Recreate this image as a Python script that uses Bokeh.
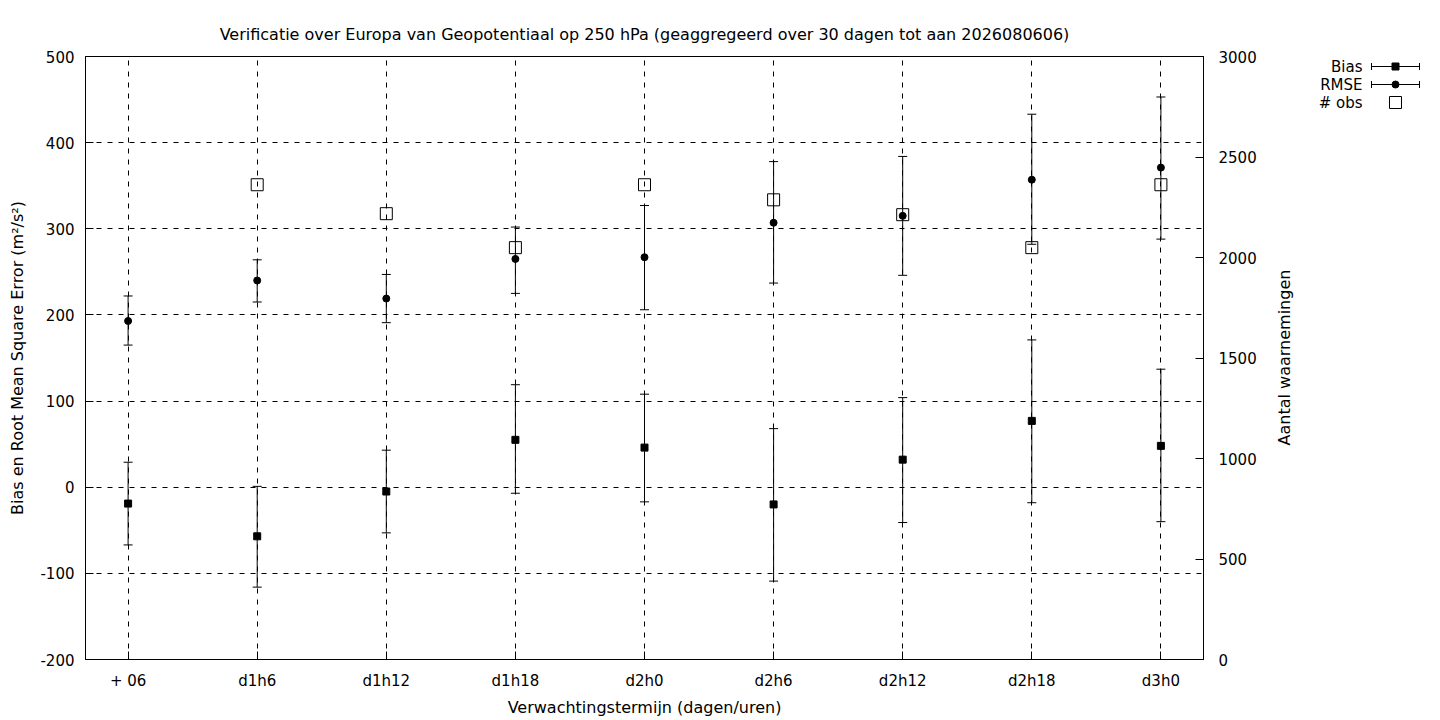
import numpy as np
from bokeh.plotting import figure
from bokeh.layouts import row
from bokeh.models import Range1d, LinearAxis, FixedTicker
from bokeh.embed import file_html
from bokeh.resources import INLINE
from bokeh.core.properties import value

# ---------------- data ----------------
categories = ["+ 06", "d1h6", "d1h12", "d1h18", "d2h0", "d2h6", "d2h12", "d2h18", "d3h0"]
bias = [-19, -57, -5, 55, 46, -20, 32, 77, 48]
bias_hi = [29, 1, 43, 119, 108, 68, 104, 171, 137]
bias_lo = [-67, -116, -53, -7, -17, -109, -41, -18, -40]
rmse = [193, 240, 219, 265, 267, 307, 315, 357, 371]
rmse_hi = [222, 264, 247, 302, 327, 378, 384, 433, 453]
rmse_lo = [165, 215, 191, 225, 206, 237, 246, 282, 288]
nobs = [np.nan, 2362, 2218, 2049, 2362, 2287, 2213, 2049, 2362]
left_ticks = [-200, -100, 0, 100, 200, 300, 400, 500]
right_ticks = [0, 500, 1000, 1500, 2000, 2500, 3000]
legend_labels = ["Bias", "RMSE", "# obs"]

title_text = ("Verificatie over Europa van Geopotentiaal op 250 hPa "
              "(geaggregeerd over 30 dagen tot aan 2026080606)")
xlabel = "Verwachtingstermijn (dagen/uren)"
ylabel = "Bias en Root Mean Square Error (m\u00b2/s\u00b2)"
y2label = "Aantal waarnemingen"

FONT = "DejaVu Sans"
FS = "15px"
LFS = "16px"
xs = list(range(len(categories)))

# ---------------- main figure ----------------
p = figure(width=1270, height=720,
           x_range=Range1d(-0.33, 8.33), y_range=Range1d(-200, 500),
           output_backend="svg", toolbar_location=None,
           min_border_left=85, min_border_right=67,
           min_border_top=56, min_border_bottom=61)
p.title.text = title_text
p.title.align = "center"
p.title.text_font = FONT
p.title.text_font_size = LFS
p.title.text_font_style = "normal"
p.title.text_color = "black"
p.title.standoff = 26

p.extra_y_ranges = {"obs": Range1d(0, 3000)}
ax2 = LinearAxis(y_range_name="obs", ticker=FixedTicker(ticks=right_ticks))
p.add_layout(ax2, "right")

p.xaxis.ticker = FixedTicker(ticks=xs)
p.xaxis.major_label_overrides = {i: c for i, c in enumerate(categories)}
p.yaxis[0].ticker = FixedTicker(ticks=left_ticks)
p.yaxis[0].major_label_overrides = {t: str(t) for t in left_ticks}

for ax in p.axis:
    ax.major_label_text_font = FONT
    ax.major_label_text_font_size = FS
    ax.major_label_text_color = "black"
    ax.major_tick_in = 8
    ax.major_tick_out = 0
    ax.minor_tick_in = 0
    ax.minor_tick_out = 0
    ax.axis_line_color = "black"
    ax.major_tick_line_color = "black"
    ax.axis_label_text_font = FONT
    ax.axis_label_text_font_size = LFS
    ax.axis_label_text_font_style = "normal"
    ax.axis_label_text_color = "black"

p.xaxis.axis_label = xlabel
p.xaxis.major_label_standoff = 12
p.xaxis.axis_label_standoff = 5
p.yaxis[0].axis_label = ylabel
p.yaxis[0].major_label_standoff = 11
p.yaxis[0].axis_label_standoff = 10
ax2.major_label_standoff = 15

p.xgrid.ticker = FixedTicker(ticks=xs)
p.ygrid.ticker = FixedTicker(ticks=left_ticks)
for g in (p.xgrid, p.ygrid):
    g.grid_line_color = "black"
    g.grid_line_dash = "5 6"
    g.grid_line_width = 1
    g.grid_line_alpha = 1

p.outline_line_color = "black"
p.outline_line_alpha = 1
p.outline_line_width = 1
p.background_fill_color = "white"
p.border_fill_color = "white"

# error bars
for lo, hi in ((bias_lo, bias_hi), (rmse_lo, rmse_hi)):
    p.segment(x0=xs, y0=lo, x1=xs, y1=hi, line_color="black", line_width=1)
    p.scatter(x=xs, y=hi, marker="dash", size=9, line_color="black", line_width=1)
    p.scatter(x=xs, y=lo, marker="dash", size=9, line_color="black", line_width=1)

p.scatter(x=xs, y=bias, marker="square", size=7, fill_color="black", line_color="black")
p.scatter(x=xs, y=rmse, marker="circle", size=7, fill_color="black", line_color="black")
p.scatter(x=xs, y=nobs, marker="square", size=12, fill_color=None,
          line_color="black", line_width=1, y_range_name="obs")

# ---------------- side panel: y2 label + legend ----------------
# The row aligns this panel's frame with the main frame (screen y 56..659),
# so its ranges are expressed in page pixels.
q = figure(width=170, height=720, x_range=Range1d(1270, 1440), y_range=Range1d(659, 56),
           output_backend="svg", toolbar_location=None,
           x_axis_type=None, y_axis_type=None,
           min_border_left=0, min_border_right=0,
           min_border_top=56, min_border_bottom=61)
q.outline_line_color = None
q.background_fill_color = "white"
q.border_fill_color = "white"

q.text(x=[1284], y=[357], text=[y2label], angle=np.pi / 2,
       text_align="center", text_baseline="middle",
       text_font=value(FONT), text_font_size=LFS, text_color="black")

ly = [66, 84, 102]
q.text(x=[1362] * 3, y=ly, text=legend_labels, text_align="right", text_baseline="middle",
       text_font=value(FONT), text_font_size=FS, text_color="black")
q.segment(x0=[1371, 1371], y0=ly[:2], x1=[1419, 1419], y1=ly[:2], line_color="black", line_width=1)
q.scatter(x=[1371, 1419, 1371, 1419], y=[ly[0], ly[0], ly[1], ly[1]], marker="dash",
          angle=np.pi / 2, size=7, line_color="black", line_width=1)
q.scatter(x=[1395], y=[ly[0]], marker="square", size=7, fill_color="black", line_color="black")
q.scatter(x=[1395], y=[ly[1]], marker="circle", size=7, fill_color="black", line_color="black")
q.scatter(x=[1395], y=[ly[2]], marker="square", size=12, fill_color=None,
          line_color="black", line_width=1)

layout = row(p, q)
open("out.html", "w").write(file_html(layout, INLINE))
